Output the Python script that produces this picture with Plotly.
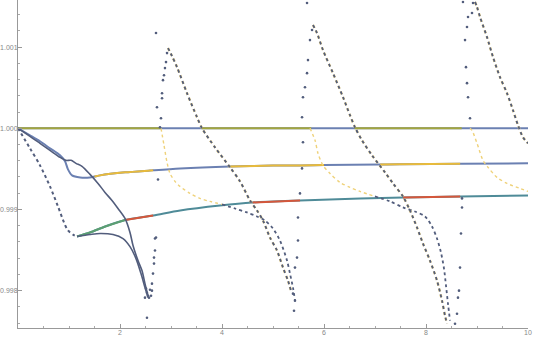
import plotly.graph_objects as go

# ---------------- data ----------------
# horizontal line at 1.000
l0_x = [0, 10]
l0_y = [1.0, 1.0]
l0_olive = [(0, 2.8), (3.6, 5.75), (6.6, 8.7)]

# level curve near 0.99955
l1_x = [0, 0.235, 0.431, 0.627, 0.824, 0.922, 0.98, 1.06, 1.22, 1.41, 1.5, 1.61, 2.1,
        2.59, 2.65, 3.18, 4.16, 5.0, 5.53, 6.0, 7.1, 7.49, 8.67, 10]
l1_y = [1.0, 0.999914, 0.99984, 0.999753, 0.999667, 0.999593, 0.999494, 0.99942, 0.999395,
        0.999395, 0.999405, 0.99942, 0.999457, 0.99948, 0.999483, 0.999506, 0.99953, 0.99954,
        0.999543, 0.999547, 0.999553, 0.999556, 0.999562, 0.999568]
l1_yellow = [(1.5, 2.65), (4.16, 6.0), (7.1, 8.67)]

# lower level curve near 0.9991
teal_x = [1.157, 1.41, 1.71, 2.1, 2.65, 3.18, 3.96, 4.6, 5.53, 6.71, 7.55, 8.67, 10]
teal_y = [0.998667, 0.998716, 0.99879, 0.99887, 0.998926, 0.998988, 0.999049, 0.999086,
          0.999111, 0.999136, 0.999148, 0.99916, 0.999173]
teal_green = [(1.157, 2.1)]
teal_red = [(2.1, 2.65), (4.6, 5.53), (7.55, 8.67)]

# steep dotted curve from the origin to the first minimum
p0_x = [0, 0.235, 0.431, 0.627, 0.784, 0.902, 0.98, 1.078, 1.157]
p0_y = [1.0, 0.999753, 0.999543, 0.999284, 0.999037, 0.99884, 0.998741, 0.998691, 0.998667]

# branch from the origin with the small bump, falling into trough 1
y0_x = [0, 0.235, 0.431, 0.627, 0.824, 0.941, 1.039, 1.137, 1.255, 1.412, 1.569, 1.706,
        1.843, 1.961, 2.098, 2.196, 2.255, 2.353, 2.431, 2.49, 2.549]
y0_y = [1.0, 0.999901, 0.999815, 0.999728, 0.999642, 0.999605, 0.999605, 0.999568, 0.999531,
        0.999432, 0.999321, 0.99921, 0.999111, 0.999012, 0.998889, 0.998716, 0.998556,
        0.99837, 0.998247, 0.998086, 0.997938]

# lower branch leaving the first minimum
low1_x = [1.157, 1.412, 1.608, 1.863, 2.059, 2.196, 2.314, 2.412, 2.49, 2.549]
low1_y = [0.998667, 0.998691, 0.998704, 0.998691, 0.998642, 0.998543, 0.998395, 0.99821,
          0.998037, 0.997914]

# descending branches after each peak
d1_x = [2.941, 3.02, 3.118, 3.314, 3.51, 3.608, 3.863, 4.157, 4.353, 4.549, 4.686, 4.804,
        4.941, 5.078, 5.196, 5.294, 5.353]
d1_y = [1.000988, 1.000889, 1.000753, 1.000432, 1.000136, 1.0, 0.999765, 0.999519, 0.999346,
        0.999111, 0.998988, 0.998864, 0.998654, 0.998494, 0.998284, 0.998123, 0.998]
d2_x = [5.784, 5.863, 5.98, 6.176, 6.373, 6.51, 6.608, 6.745, 6.941, 7.196, 7.353, 7.549,
        7.686, 7.824, 7.941, 8.078, 8.216, 8.314, 8.373, 8.412]
d2_y = [1.001272, 1.001173, 1.000963, 1.000679, 1.000383, 1.00016, 1.000012, 0.999852,
        0.999667, 0.999457, 0.999321, 0.99916, 0.998988, 0.998778, 0.99858, 0.99837,
        0.998123, 0.997877, 0.997691, 0.997593]
d3_x = [8.961, 9.0, 9.059, 9.196, 9.314, 9.451, 9.588, 9.706, 9.804, 9.902, 10]
d3_y = [1.001556, 1.001494, 1.00137, 1.001123, 1.000877, 1.00063, 1.000432, 1.000222,
        1.000037, 0.999889, 0.999815]

# decaying branches starting at 1.000 after each rise
y1_x = [2.804, 2.863, 2.922, 2.98, 3.078, 3.176, 3.373, 3.569, 3.765, 4.0, 4.255, 4.49,
        4.686, 4.843, 5.0, 5.137, 5.275, 5.333, 5.392, 5.431]
y1_y = [1.0, 0.99979, 0.99958, 0.999444, 0.999346, 0.999284, 0.999198, 0.999136, 0.999099,
        0.999062, 0.999012, 0.998963, 0.998914, 0.998864, 0.998765, 0.998617, 0.99837,
        0.99821, 0.998037, 0.997877]
y1_cross = 4.0
y2_x = [5.725, 5.824, 5.882, 5.98, 6.118, 6.314, 6.51, 6.706, 6.999, 7.294, 7.549, 7.784,
        7.98, 8.118, 8.216, 8.294, 8.353, 8.392, 8.431, 8.471]
y2_y = [1.0, 0.999852, 0.999691, 0.999543, 0.999444, 0.999333, 0.999272, 0.999222, 0.99916,
        0.999099, 0.999025, 0.998975, 0.998914, 0.99879, 0.998642, 0.998469, 0.998272,
        0.998062, 0.99784, 0.99763]
y2_cross = 6.999
y3_x = [8.863, 8.902, 9.0, 9.118, 9.216, 9.392, 9.588, 9.843, 10]
y3_y = [1.0, 0.999975, 0.999815, 0.999605, 0.999519, 0.999395, 0.999321, 0.999259, 0.999222]

# sparse dots in the troughs and on the steep rises
dots_x = [2.49, 2.51, 2.529, 2.529, 2.549, 2.569, 2.588, 2.608, 2.627, 2.627, 2.647, 2.667,
          2.667, 2.686, 2.686, 2.706, 2.745, 2.784, 2.804, 2.725, 2.706, 2.824, 2.824, 2.843,
          2.863, 2.882, 2.902, 2.922,
          5.412, 5.392, 5.431, 5.431, 5.471, 5.49, 5.49, 5.529, 5.569, 5.588, 5.569, 5.588,
          5.627, 5.667, 5.686, 5.725, 5.765, 5.667,
          8.569, 8.608, 8.627, 8.647, 8.667, 8.686, 8.706, 8.706, 8.863, 8.824, 8.804, 8.784,
          8.765, 8.804, 8.824, 8.902, 8.922, 8.725]
dots_y = [0.997914, 0.998025, 0.997975, 0.997667, 0.997938, 0.997914, 0.998012, 0.997938,
          0.998, 0.998086, 0.99821, 0.998333, 0.998407, 0.998494, 0.998642, 0.998654,
          0.99937, 1.000012, 1.000123, 1.000259, 1.001173, 1.000432, 1.00037, 1.000593,
          1.000654, 1.000741, 1.000815, 1.000926,
          0.997753, 0.997963, 0.997877, 0.998284, 0.998407, 0.998617, 0.998901, 0.999198,
          0.999506, 0.999827, 1.000136, 1.000383, 1.000506, 1.000679, 1.00084, 1.001086,
          1.00121, 1.001543,
          0.997593, 0.997716, 0.997914, 0.998, 0.998284, 0.998704, 0.999025, 0.999136,
          1.000123, 1.000383, 1.000556, 1.000753, 1.001086, 1.001247, 1.00137, 1.00142,
          1.001543, 1.001556]

x_ticks = [2, 4, 6, 8, 10]
y_ticks = [0.998, 0.999, 1.000, 1.001]

# ---------------- styles ----------------
BLUE = "#6b80b2"
OLIVE = "#a3a63e"
YELLOW = "#e8bb3c"
PALEY = "#efd27a"
TEAL = "#4f8b98"
GREEN = "#5c9f72"
RED = "#d5573b"
DARK = "#525d7c"


def seg(xs, ys, a, b):
    px = [x for x in xs if a - 1e-9 <= x <= b + 1e-9]
    py = [y for x, y in zip(xs, ys) if a - 1e-9 <= x <= b + 1e-9]
    return px, py


fig = go.Figure()


def line(xs, ys, color, width=2.0, dash="solid", smooth=0.8):
    fig.add_trace(go.Scatter(x=xs, y=ys, mode="lines", hoverinfo="skip",
                             line=dict(color=color, width=width, dash=dash,
                                       shape="spline", smoothing=smooth)))


# line at 1.000
line(l0_x, l0_y, BLUE, 2)
for a, b in l0_olive:
    line([a, b], [1.0, 1.0], OLIVE, 2)

# level curves
line(l1_x, l1_y, BLUE, 2)
for a, b in l1_yellow:
    sx, sy = seg(l1_x, l1_y, a, b)
    line(sx, sy, YELLOW, 2)

line(teal_x, teal_y, TEAL, 2)
for a, b in teal_green:
    sx, sy = seg(teal_x, teal_y, a, b)
    line(sx, sy, GREEN, 2)
for a, b in teal_red:
    sx, sy = seg(teal_x, teal_y, a, b)
    line(sx, sy, RED, 2)

# branches from the origin
line(p0_x, p0_y, DARK, 2, "dot")
line(y0_x, y0_y, DARK, 1.6)
line(low1_x, low1_y, DARK, 1.6)

# decaying branches (yellow above the crossing, dark below)
for xs, ys, c in [(y1_x, y1_y, y1_cross), (y2_x, y2_y, y2_cross)]:
    ax, ay = seg(xs, ys, -1, c)
    line(ax, ay, PALEY, 1.4, "dot")
    bx, by = seg(xs, ys, c, 99)
    line(bx, by, DARK, 1.8, "dot")
line(y3_x, y3_y, PALEY, 1.4, "dot")

# descending branches after the peaks
for xs, ys in [(d1_x, d1_y), (d2_x, d2_y), (d3_x, d3_y)]:
    line(xs, ys, PALEY, 2.4, "dot")
    line(xs, ys, DARK, 1.8, "dot")

fig.add_trace(go.Scatter(x=dots_x, y=dots_y, mode="markers", hoverinfo="skip",
                         marker=dict(color=DARK, size=2.6)))

axis_common = dict(showgrid=False, zeroline=False, showline=True, linecolor="#999999",
                   linewidth=1, ticks="inside", ticklen=4, tickcolor="#999999",
                   tickfont=dict(family="Liberation Sans, Arial", size=7, color="#888888"),
                   automargin=False, ticklabelstandoff=-2)

fig.update_xaxes(range=[0, 10], tickvals=x_ticks, ticktext=[str(v) for v in x_ticks],
                 minor=dict(dtick=0.5, tick0=0, ticks="inside", ticklen=2,
                            tickcolor="#aaaaaa"),
                 **axis_common)
fig.update_yaxes(range=[0.99754, 1.00158], tickvals=y_ticks,
                 ticktext=["%.3f" % v for v in y_ticks],
                 minor=dict(dtick=0.0002, tick0=0.998, ticks="inside", ticklen=2,
                            tickcolor="#aaaaaa"),
                 **axis_common)

fig.update_layout(width=540, height=338, margin=dict(l=18, r=12, t=0, b=10),
                  paper_bgcolor="white", plot_bgcolor="white", showlegend=False,
                  template="none")

fig.write_html("out.html")
